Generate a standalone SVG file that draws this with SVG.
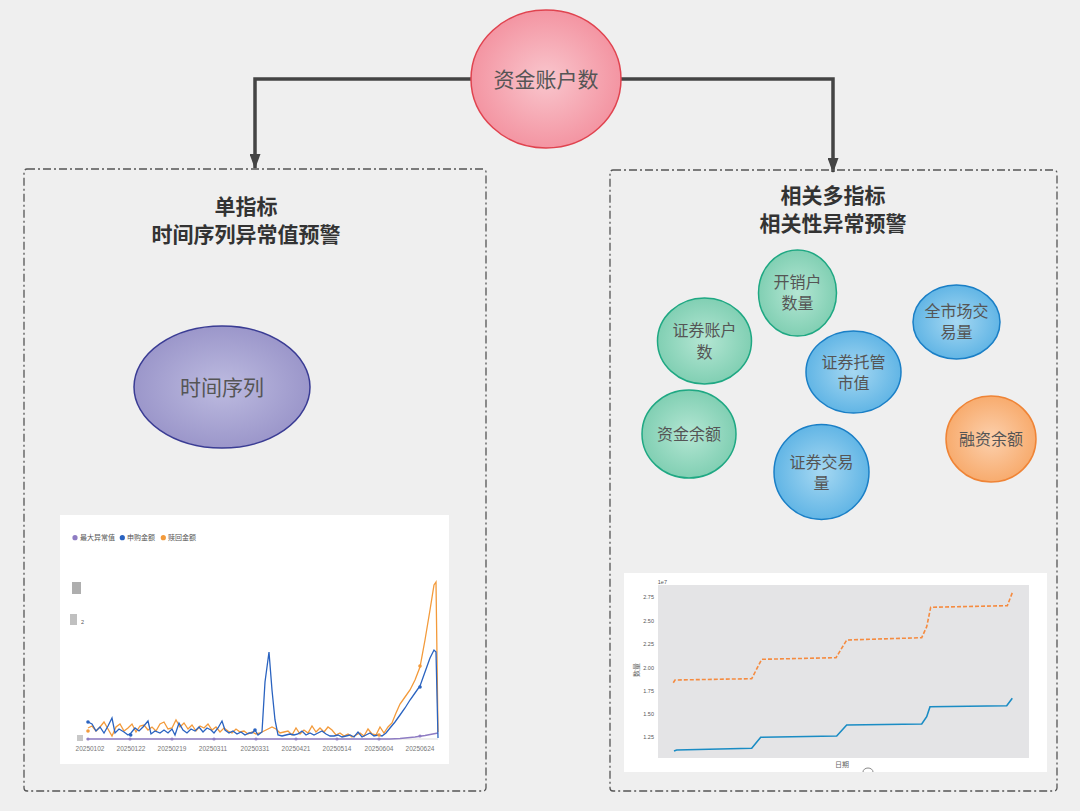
<svg xmlns="http://www.w3.org/2000/svg" width="1080" height="811" viewBox="0 0 1080 811">
<defs>
<radialGradient id="gRed" cx="50%" cy="50%" r="55%"><stop offset="0" stop-color="#f9c6cd"/><stop offset="1" stop-color="#f3909e"/></radialGradient>
<radialGradient id="gPur" cx="50%" cy="50%" r="55%"><stop offset="0" stop-color="#bdbbe0"/><stop offset="1" stop-color="#9893c8"/></radialGradient>
<radialGradient id="gGrn" cx="50%" cy="50%" r="55%"><stop offset="0" stop-color="#b4e6d3"/><stop offset="1" stop-color="#7ccdb0"/></radialGradient>
<radialGradient id="gBlu" cx="50%" cy="50%" r="55%"><stop offset="0" stop-color="#a6d8f2"/><stop offset="1" stop-color="#5bb2e4"/></radialGradient>
<radialGradient id="gOrg" cx="50%" cy="50%" r="55%"><stop offset="0" stop-color="#fcd0ad"/><stop offset="1" stop-color="#f7a868"/></radialGradient>
<marker id="arr" markerWidth="15" markerHeight="11" refX="14" refY="5.5" orient="auto" markerUnits="userSpaceOnUse" viewBox="0 0 15 11"><path d="M0,0 L15,5.5 L0,11 Z" fill="#444"/></marker>
</defs>
<style>
.bg{fill:#efefef}
.box{fill:none;stroke:#555;stroke-width:1.3;stroke-dasharray:8 3 2 3}
.conn{fill:none;stroke:#444;stroke-width:3.5}
.title{font-family:"Noto Sans CJK SC","Noto Sans",sans-serif;font-size:21px;font-weight:700;fill:#333;text-anchor:middle}
.lbl{font-family:"Noto Sans CJK SC","Noto Sans",sans-serif;fill:#555;text-anchor:middle}
.b16{font-size:16px}
.grn{fill:url(#gGrn);stroke:#1fa883;stroke-width:1.5}
.blu{fill:url(#gBlu);stroke:#1a7fc6;stroke-width:1.5}
.org{fill:url(#gOrg);stroke:#ef8436;stroke-width:1.5}
.tick{font-family:"Liberation Sans",sans-serif;font-size:6.5px;fill:#777;text-anchor:middle}
.leg{font-family:"Noto Sans CJK SC",sans-serif;font-size:7px;fill:#555}
.ytk{font-family:"Liberation Sans",sans-serif;font-size:5.5px;fill:#555;text-anchor:end}
</style>
<rect class="bg" x="0" y="0" width="1080" height="811"/>

<g id="connectors">
<path class="conn" d="M471,79 H255 V168" marker-end="url(#arr)"/>
<path class="conn" d="M621,79 H833 V172" marker-end="url(#arr)"/>
</g>

<g id="node-root">
<ellipse cx="546" cy="79" rx="75" ry="69" fill="url(#gRed)" stroke="#e0434f" stroke-width="1.5"/>
<text class="lbl" x="546" y="87" font-size="21" fill="#444">资金账户数</text>
</g>

<g id="group-left">
<rect class="box" x="24" y="169" width="462" height="622" rx="3"/>
<text class="title" x="246" y="214">单指标</text>
<text class="title" x="246" y="242">时间序列异常值预警</text>
</g>

<g id="group-right">
<rect class="box" x="610" y="170" width="447" height="621" rx="3"/>
<text class="title" x="833" y="203">相关多指标</text>
<text class="title" x="833" y="231">相关性异常预警</text>
</g>

<g id="node-timeseries">
<ellipse cx="222" cy="387" rx="88" ry="61" fill="url(#gPur)" stroke="#3a3c94" stroke-width="1.5"/>
<text class="lbl" x="222" y="395" font-size="21">时间序列</text>
</g>

<g id="node-kxhsl">
<ellipse class="grn" cx="797.5" cy="293" rx="39" ry="43"/>
<text class="lbl b16" x="797.5" y="288">开销户</text>
<text class="lbl b16" x="797.5" y="309">数量</text>
</g>
<g id="node-zqzhs">
<ellipse class="grn" cx="704.5" cy="341" rx="47" ry="43"/>
<text class="lbl b16" x="704.5" y="336">证券账户</text>
<text class="lbl b16" x="704.5" y="358">数</text>
</g>
<g id="node-qscjyl">
<ellipse class="blu" cx="956.5" cy="322" rx="43.5" ry="37"/>
<text class="lbl b16" x="956.5" y="317">全市场交</text>
<text class="lbl b16" x="956.5" y="338">易量</text>
</g>
<g id="node-zqtgsz">
<ellipse class="blu" cx="853.5" cy="372" rx="47.5" ry="41"/>
<text class="lbl b16" x="853.5" y="368">证券托管</text>
<text class="lbl b16" x="853.5" y="389">市值</text>
</g>
<g id="node-zjye">
<ellipse class="grn" cx="689" cy="434" rx="47" ry="44"/>
<text class="lbl b16" x="689" y="440">资金余额</text>
</g>
<g id="node-zqjyl">
<ellipse class="blu" cx="821.5" cy="472" rx="47.5" ry="47.5"/>
<text class="lbl b16" x="821.5" y="468">证券交易</text>
<text class="lbl b16" x="821.5" y="489">量</text>
</g>
<g id="node-rzye">
<ellipse class="org" cx="991" cy="439" rx="45" ry="43"/>
<text class="lbl b16" x="991" y="445">融资余额</text>
</g>

<g id="chart-left">
<rect x="60" y="515" width="389" height="249" fill="#ffffff"/>
<circle cx="75" cy="537.7" r="2.6" fill="#8e7cc3"/>
<text class="leg" x="80" y="540">最大异常值</text>
<circle cx="122.3" cy="537.7" r="2.6" fill="#2a63c0"/>
<text class="leg" x="127" y="540">申购金额</text>
<circle cx="163.3" cy="537.7" r="2.6" fill="#f39a3a"/>
<text class="leg" x="168" y="540">赎回金额</text>
<rect x="72" y="582" width="9" height="12" fill="#9a9a9a" opacity="0.8"/>
<rect x="70" y="614" width="7" height="11" fill="#b0b0b0" opacity="0.8"/>
<text class="ytk" x="84" y="624" fill="#888">2</text>
<rect x="77" y="735" width="6" height="6" fill="#c8c8c8"/>
<line x1="86" y1="739" x2="438" y2="739" stroke="#ddd" stroke-width="1"/>
<polyline fill="none" stroke="#8e7cc3" stroke-width="1.3" points="88,739 390,739 400,738.5 415,737 425,735.5 438,733"/>
<g fill="#8e7cc3">
<circle cx="88" cy="739" r="1.6"/><circle cx="130" cy="739" r="1.6"/><circle cx="172" cy="739" r="1.6"/><circle cx="214" cy="739" r="1.6"/><circle cx="256" cy="739" r="1.6"/><circle cx="296" cy="739" r="1.6"/><circle cx="337" cy="739" r="1.6"/><circle cx="379" cy="739" r="1.6"/><circle cx="420" cy="736" r="1.6"/>
</g>
<polyline fill="none" stroke="#f39a3a" stroke-width="1.3" points="88,728 92,726 96,731 100,727 104,722 108,729 112,736 116,727 120,724 124,731 128,728 132,724 136,732 140,726 144,725 148,730 152,727 156,731 160,724 164,722 168,729 172,728 176,720 180,727 184,723 188,729 192,725 196,731 200,726 204,728 208,724 212,730 216,727 220,732 224,728 228,731 232,733 236,729 240,732 244,731 248,734 252,732 256,734 260,733 264,731 268,729 272,727 276,729 280,733 284,732 288,731 292,735 296,728 300,734 304,730 308,733 312,726 316,732 320,728 324,732 328,727 332,730 336,735 340,733 344,736 348,734 352,737 356,735 360,733 364,736 368,729 372,734 376,735 380,727 384,733 388,727 392,723 396,713 400,704 405,697 410,690 415,680 420,667 425,640 430,610 434,585 436,582 438,732"/>
<polyline fill="none" stroke="#2a63c0" stroke-width="1.3" points="88,722 92,724 96,731 100,727 104,733 108,726 112,718 115,733 119,729 124,732 128,735 131,733 135,728 139,731 143,727 148,721 151,734 155,731 160,733 164,730 168,733 172,729 175,735 179,723 183,730 187,733 191,729 195,731 199,727 203,732 207,728 211,730 214,733 218,728 222,721 225,730 229,733 233,731 237,734 241,732 245,735 249,733 252,733 255,730 258,735 262,732 265,682 269,652 272,690 275,720 278,735 282,736 286,735 290,734 294,735 298,734 302,731 306,735 310,733 314,735 318,733 322,731 326,734 330,736 334,736 338,735 342,737 346,736 350,735 354,737 358,732 362,737 366,735 370,733 374,736 378,735 382,736 386,733 390,728 395,722 400,715 405,708 410,700 415,693 420,686 425,672 430,658 434,650 436,652 438,738"/>
<g fill="#2a63c0"><circle cx="88" cy="722" r="1.8"/><circle cx="130.7" cy="735" r="1.8"/><circle cx="255" cy="730" r="1.8"/><circle cx="420" cy="687" r="1.8"/></g>
<g fill="#f39a3a"><circle cx="88" cy="731" r="1.8"/><circle cx="420" cy="666" r="1.8"/><circle cx="379" cy="735" r="1.8"/></g>
<text class="tick" x="90" y="751">20250102</text>
<text class="tick" x="131" y="751">20250122</text>
<text class="tick" x="172" y="751">20250219</text>
<text class="tick" x="213" y="751">20250311</text>
<text class="tick" x="255" y="751">20250331</text>
<text class="tick" x="296" y="751">20250421</text>
<text class="tick" x="337" y="751">20250514</text>
<text class="tick" x="379" y="751">20250604</text>
<text class="tick" x="420" y="751">20250624</text>
</g>

<g id="chart-right">
<rect x="624" y="573" width="423" height="199" fill="#ffffff"/>
<rect x="658" y="585" width="371" height="173" fill="#e4e4e6"/>
<text class="ytk" x="667" y="584">1e7</text>
<text class="ytk" x="654" y="599">2.75</text>
<text class="ytk" x="654" y="623">2.50</text>
<text class="ytk" x="654" y="646">2.25</text>
<text class="ytk" x="654" y="670">2.00</text>
<text class="ytk" x="654" y="693">1.75</text>
<text class="ytk" x="654" y="716">1.50</text>
<text class="ytk" x="654" y="739">1.25</text>
<text font-family="Noto Sans CJK SC,sans-serif" font-size="7" fill="#666" text-anchor="middle" transform="translate(639,670) rotate(-90)">数量</text>
<text font-family="Noto Sans CJK SC,sans-serif" font-size="7" fill="#666" text-anchor="middle" x="842" y="767">日期</text>
<path d="M863,772 A5,4 0 0 1 873,772" fill="none" stroke="#888" stroke-width="1"/>
<polyline fill="none" stroke="#f58b40" stroke-width="1.6" stroke-dasharray="4 2" points="673.3,682.7 675,680 751.7,678.7 761.7,659.3 836,657.7 846.7,640 921.7,637.7 926.7,626.7 930.7,607.3 1007.3,605.7 1012.3,592.7"/>
<polyline fill="none" stroke="#1a8cc4" stroke-width="1.6" points="674,751 676.7,750 751.7,748.3 760.7,737.3 836.7,736 846.7,725 921.7,724 926.7,716.7 930,706.7 1006.7,705.7 1012.3,698.3"/>
</g>
</svg>
